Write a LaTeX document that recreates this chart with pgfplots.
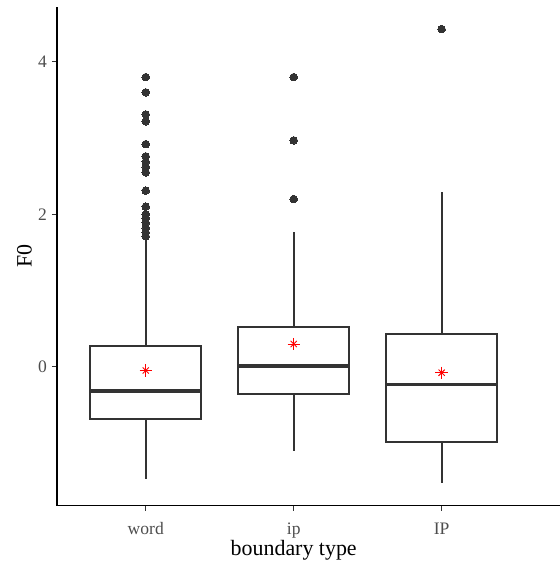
\documentclass[border=0pt]{standalone}
\usepackage{fontspec}
\setmainfont{Liberation Serif}
\usepackage{pgfplots}
\pgfplotsset{compat=1.18}
\usepgfplotslibrary{statistics}
\definecolor{gtwenty}{HTML}{333333}
\definecolor{gthirty}{HTML}{4D4D4D}

\pgfplotsset{
  bx/.style={
    draw=gtwenty, fill=white, line width=1.8bp,
    mark=*, mark size=3.8bp,
    mark options={draw=gtwenty, fill=gtwenty, line width=0pt},
    boxplot/draw direction=y,
    boxplot/box extend=0.75,
    boxplot/whisker extend=0,
    boxplot/every median/.style={line width=3.6bp},
  },
}

\begin{document}
\begin{tikzpicture}
\begin{axis}[
    name=ax,
    scale only axis,
    width=503bp, height=498.7bp,
    xmin=0.4, xmax=3.8,
    ymin=-1.824, ymax=4.72,
    axis x line*=bottom, axis y line*=left,
    axis line style={line width=1.1bp, black, -},
    xtick={1,2,3}, xticklabels={word,ip,IP},
    ytick={0,2,4},
    tick align=outside, major tick length=5bp,
    tick style={gtwenty, line width=1bp},
    /pgf/number format/assume math mode=true,
    ticklabel style={font=\fontsize{17.6}{20}\selectfont, text=gthirty},
    xticklabel style={anchor=base, inner sep=0pt, yshift=-24bp},
    yticklabel style={anchor=east, inner sep=0pt, xshift=-5bp},
    xlabel={boundary type}, ylabel={F0},
    label style={font=\fontsize{22}{26}\selectfont, text=black},
    xlabel style={at={(axis description cs:0.4706,-0.1003)}, anchor=base},
    ylabel style={at={(axis description cs:-0.0503,0.5)}, anchor=base, rotate=0},
    clip=false,
]
% word
\addplot[bx, boxplot prepared={draw position=1,
    lower whisker=-1.478, lower quartile=-0.69, median=-0.319,
    upper quartile=0.276, upper whisker=1.70}]
  coordinates {(0,3.80)(0,3.60)(0,3.31)(0,3.22)(0,2.92)(0,2.76)(0,2.69)
               (0,2.62)(0,2.55)(0,2.31)(0,2.10)(0,2.00)(0,1.95)(0,1.89)
               (0,1.82)(0,1.76)(0,1.71)};
% ip
\addplot[bx, boxplot prepared={draw position=2,
    lower whisker=-1.11, lower quartile=-0.358, median=0.013,
    upper quartile=0.525, upper whisker=1.764}]
  coordinates {(0,3.80)(0,2.97)(0,2.20)};
% IP
\addplot[bx, boxplot prepared={draw position=3,
    lower whisker=-1.522, lower quartile=-0.984, median=-0.231,
    upper quartile=0.425, upper whisker=2.293}]
  coordinates {(0,4.43)};
% means
\addplot[only marks, mark=+, red, mark size=6.2bp, mark options={line width=0.9bp}]
  coordinates {(1,-0.05)(2,0.298)(3,-0.079)};
\addplot[only marks, mark=x, red, mark size=4.4bp, mark options={line width=0.9bp}]
  coordinates {(1,-0.05)(2,0.298)(3,-0.079)};
\end{axis}
\pgfresetboundingbox
\path (ax.south west) ++(-57bp,-61.3bp) rectangle ++(560bp,567bp);
\end{tikzpicture}
\end{document}
